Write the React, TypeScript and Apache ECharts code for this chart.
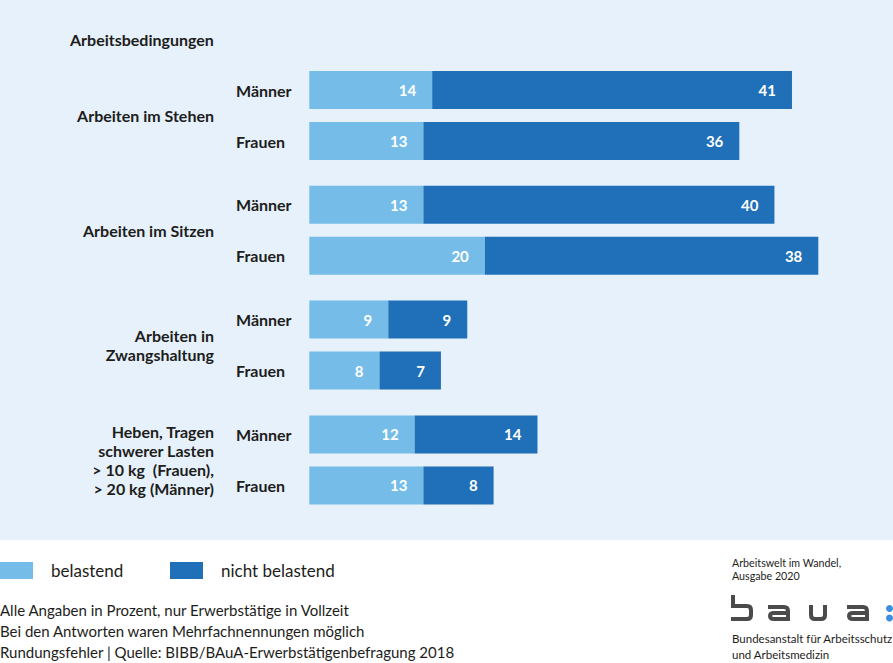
import React, { useEffect, useRef } from "react";
import * as echarts from "echarts";

// ---- data ----
const title = "Arbeitsbedingungen";
const groups = [
  "Arbeiten im Stehen",
  "Arbeiten im Sitzen",
  "Arbeiten in\nZwangshaltung",
  "Heben, Tragen\nschwerer Lasten\n> 10 kg  (Frauen),\n> 20 kg (Männer)",
];
const genders = ["Männer", "Frauen"];
const belastend = [
  [14, 13],
  [13, 20],
  [9, 8],
  [12, 13],
];
const nichtBelastend = [
  [41, 36],
  [40, 38],
  [9, 7],
  [14, 8],
];
const seriesNames = ["belastend", "nicht belastend"];
const footnotes = [
  "Alle Angaben in Prozent, nur Erwerbstätige in Vollzeit",
  "Bei den Antworten waren Mehrfachnennungen möglich",
  "Rundungsfehler | Quelle: BIBB/BAuA-Erwerbstätigenbefragung 2018",
];
const publication = ["Arbeitswelt im Wandel,", "Ausgabe 2020"];
const institution = ["Bundesanstalt für Arbeitsschutz", "und Arbeitsmedizin"];

// ---- style ----
const FONT = "Lato";
const LIGHT = "#75bde8";
const DARK = "#1f70b8";
const PANEL = "#e6f1fb";
const TEXT = "#1d1d1b";
const GRID_LEFT = 309.3;
const UNIT = 8.776;
const XMAX = 60;
const SLOT = 51;
const GROUP_CENTER0 = 115.5;
const GROUP_STEP = 114.8;

// logo shapes
const LOGO_B = "M733,595 L733,606 L747,606 Q751,606 751,610 L751,615 Q751,619 747,619 L731,619";
const LOGO_A1 =
  "M768,607 L784,607 Q788,607 788,611 L788,621 M788,613 L774,613 Q770,613 770,616 Q770,619 774,619 L788,619";
const LOGO_U = "M811,605 L811,615 Q811,619 815,619 L821,619 Q825,619 825,615 L825,605";
const LOGO_A2 =
  "M847,607 L863,607 Q867,607 867,611 L867,621 M867,613 L853,613 Q849,613 849,616 Q849,619 853,619 L867,619";

let registered = false;
function registerLogo() {
  if (registered) return;
  registered = true;
  echarts.graphic.registerShape("bauaB", echarts.graphic.extendPath(LOGO_B, {}) as any);
  echarts.graphic.registerShape("bauaA1", echarts.graphic.extendPath(LOGO_A1, {}) as any);
  echarts.graphic.registerShape("bauaU", echarts.graphic.extendPath(LOGO_U, {}) as any);
  echarts.graphic.registerShape("bauaA2", echarts.graphic.extendPath(LOGO_A2, {}) as any);
}

export default function App() {
  const ref = useRef<HTMLDivElement>(null);

  useEffect(() => {
    if (!ref.current) return;
    registerLogo();
    const chart = echarts.init(ref.current, null, { renderer: "svg" });

    const grids: any[] = [];
    const xAxes: any[] = [];
    const yAxes: any[] = [];
    const series: any[] = [];
    const groupTexts: any[] = [];

    groups.forEach((g, i) => {
      const center = GROUP_CENTER0 + i * GROUP_STEP;
      grids.push({
        left: GRID_LEFT,
        width: XMAX * UNIT,
        top: center - SLOT,
        height: SLOT * 2,
      });
      xAxes.push({
        type: "value",
        gridIndex: i,
        min: 0,
        max: XMAX,
        show: false,
      });
      yAxes.push({
        type: "category",
        gridIndex: i,
        data: genders,
        inverse: true,
        axisLine: { show: false },
        axisTick: { show: false },
        axisLabel: {
          align: "left",
          margin: GRID_LEFT - 236,
          fontFamily: FONT,
          fontWeight: "bold",
          fontSize: 16,
          color: TEXT,
        },
      });
      const label = {
        show: true,
        position: "insideRight",
        distance: 16,
        color: "#ffffff",
        fontFamily: FONT,
        fontWeight: "bold",
        fontSize: 15,
      };
      series.push({
        type: "bar",
        name: seriesNames[0],
        stack: "g" + i,
        xAxisIndex: i,
        yAxisIndex: i,
        barWidth: 38,
        data: belastend[i],
        itemStyle: { color: LIGHT },
        label,
      });
      series.push({
        type: "bar",
        name: seriesNames[1],
        stack: "g" + i,
        xAxisIndex: i,
        yAxisIndex: i,
        barWidth: 38,
        data: nichtBelastend[i],
        itemStyle: { color: DARK },
        label,
      });
      groupTexts.push({
        type: "text",
        x: 214,
        y: center,
        style: {
          text: g,
          align: "right",
          verticalAlign: "middle",
          font: `bold 16px ${FONT}`,
          lineHeight: 19,
          fill: TEXT,
        },
      });
    });

    const legendBase = {
      top: 562,
      itemWidth: 33,
      itemHeight: 17,
      icon: "rect",
      padding: 0,
      selectedMode: false,
      textStyle: {
        fontFamily: FONT,
        fontSize: 17,
        color: TEXT,
        padding: [0, 0, 0, 13],
      },
    };

    chart.setOption({
      animation: false,
      backgroundColor: "#ffffff",
      textStyle: { fontFamily: FONT },
      grid: grids,
      xAxis: xAxes,
      yAxis: yAxes,
      legend: [
        { ...legendBase, left: 0, data: [seriesNames[0]] },
        { ...legendBase, left: 170, data: [seriesNames[1]] },
      ],
      series,
      graphic: [
        {
          type: "rect",
          z: -10,
          shape: { x: 0, y: 0, width: 893, height: 540 },
          style: { fill: PANEL },
          silent: true,
        },
        {
          type: "text",
          x: 70,
          y: 39,
          style: {
            text: title,
            verticalAlign: "middle",
            font: `bold 16px ${FONT}`,
            fill: TEXT,
          },
        },
        ...groupTexts,
        {
          type: "text",
          x: 0,
          y: 599,
          style: {
            text: footnotes.join("\n"),
            font: `15px ${FONT}`,
            lineHeight: 21,
            fill: TEXT,
            verticalAlign: "top",
          },
        },
        {
          type: "text",
          x: 732,
          y: 556,
          style: {
            text: publication.join("\n"),
            font: `10.7px ${FONT}`,
            lineHeight: 13,
            fill: TEXT,
            verticalAlign: "top",
          },
        },
        {
          type: "text",
          x: 732,
          y: 630,
          style: {
            text: institution.join("\n"),
            font: `11.5px ${FONT}`,
            lineHeight: 16,
            fill: TEXT,
            verticalAlign: "top",
          },
        },
        { type: "bauaB", style: { fill: "none", stroke: "#4b4b4b", lineWidth: 4 } },
        { type: "bauaA1", style: { fill: "none", stroke: "#4b4b4b", lineWidth: 4 } },
        { type: "bauaU", style: { fill: "none", stroke: "#4b4b4b", lineWidth: 4 } },
        { type: "bauaA2", style: { fill: "none", stroke: "#4b4b4b", lineWidth: 4 } },
        { type: "circle", shape: { cx: 889.5, cy: 608.5, r: 3.5 }, style: { fill: "#3b8fdc" } },
        { type: "circle", shape: { cx: 889.5, cy: 618, r: 3.5 }, style: { fill: "#3b8fdc" } },
      ],
    });

    return () => chart.dispose();
  }, []);

  return (
    <div
      ref={ref}
      style={{ position: "fixed", left: 0, top: 0, width: 893, height: 663 }}
    />
  );
}
